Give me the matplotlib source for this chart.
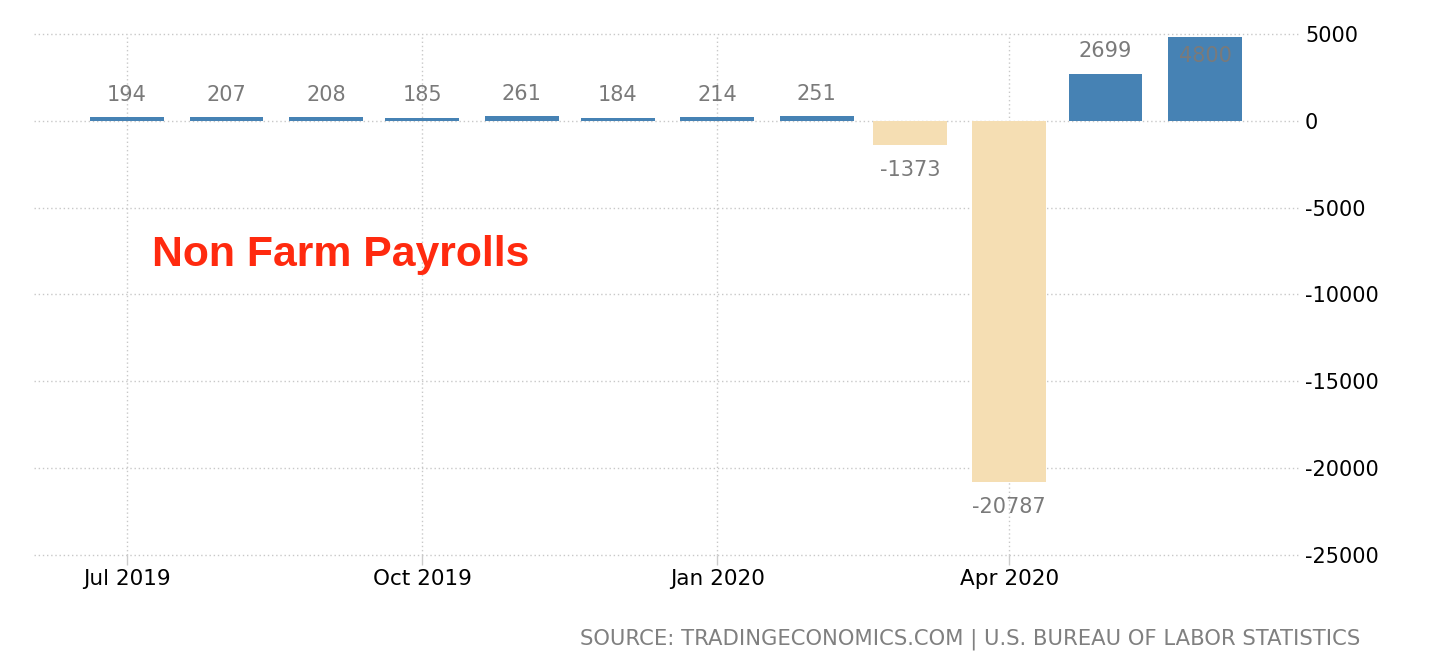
import matplotlib
matplotlib.use("Agg")
import matplotlib.pyplot as plt
import matplotlib.dates as mdates
import numpy as np
import pandas as pd

months = ["2019-07-01", "2019-08-01", "2019-09-01", "2019-10-01", "2019-11-01", "2019-12-01",
          "2020-01-01", "2020-02-01", "2020-03-01", "2020-04-01", "2020-05-01", "2020-06-01"]
values = [194, 207, 208, 185, 261, 184, 214, 251, -1373, -20787, 2699, 4800]
xtick_dates = ["2019-07-01", "2019-10-01", "2020-01-01", "2020-04-01"]
xtick_labels = ["Jul 2019", "Oct 2019", "Jan 2020", "Apr 2020"]
yticks = [5000, 0, -5000, -10000, -15000, -20000, -25000]
title = "Non Farm Payrolls"
source = "SOURCE: TRADINGECONOMICS.COM | U.S. BUREAU OF LABOR STATISTICS"

pos_color = "#4682B4"
neg_color = "#F5DEB3"

W, H = 1456, 662
fig = plt.figure(figsize=(W / 100, H / 100), dpi=100)
ax = fig.add_axes([34 / W, 1 - 555 / H, (1298 - 34) / W, (555 - 34) / H])

x = mdates.date2num(pd.to_datetime(months))
colors = [pos_color if v >= 0 else neg_color for v in values]
ax.bar(x, values, width=23, color=colors, zorder=2)

ymin, ymax = -25000, 5000
ax.set_ylim(ymin, ymax)
ax.set_xlim(mdates.date2num(pd.Timestamp("2019-06-02")), mdates.date2num(pd.Timestamp("2020-06-30")))

lab_color = "#7a7a7a"
lab_size = 15
for xi, v in zip(x, values):
    if v >= 0:
        if v + 1500 > ymax:
            ax.annotate(str(v), (xi, v), xytext=(0, -6), textcoords="offset points",
                        ha="center", va="top", fontsize=lab_size, color=lab_color, zorder=3)
        else:
            ax.annotate(str(v), (xi, v), xytext=(0, 9), textcoords="offset points",
                        ha="center", va="bottom", fontsize=lab_size, color=lab_color, zorder=3)
    else:
        ax.annotate(str(v), (xi, v), xytext=(0, -11), textcoords="offset points",
                    ha="center", va="top", fontsize=lab_size, color=lab_color, zorder=3)

ax.set_yticks(yticks)
ax.set_yticklabels([str(t) for t in yticks])
ax.yaxis.tick_right()
ax.tick_params(axis="y", length=0, pad=5, labelsize=15, labelcolor="black")
ax.set_xticks(mdates.date2num(pd.to_datetime(xtick_dates)))
ax.set_xticklabels(xtick_labels)
ax.tick_params(axis="x", length=7, width=1, color="#cccccc", pad=3, labelsize=15.5, labelcolor="black")

ax.grid(True, axis="both", linestyle=(0, (1, 2)), color="#c8c8c8", linewidth=1, zorder=0)
for gl in ax.get_xgridlines() + ax.get_ygridlines():
    gl.set_clip_on(False)
for s in ax.spines.values():
    s.set_visible(False)

fig.text(152 / W, 1 - 266 / H, title, color="#FF2A0F", fontsize=30.8, fontweight="bold",
         family="Liberation Sans", ha="left", va="baseline")
fig.text(1360 / W, 1 - 644 / H, source, color="#808080", fontsize=15.2, ha="right", va="baseline")

fig.savefig("out.png", dpi=100)
